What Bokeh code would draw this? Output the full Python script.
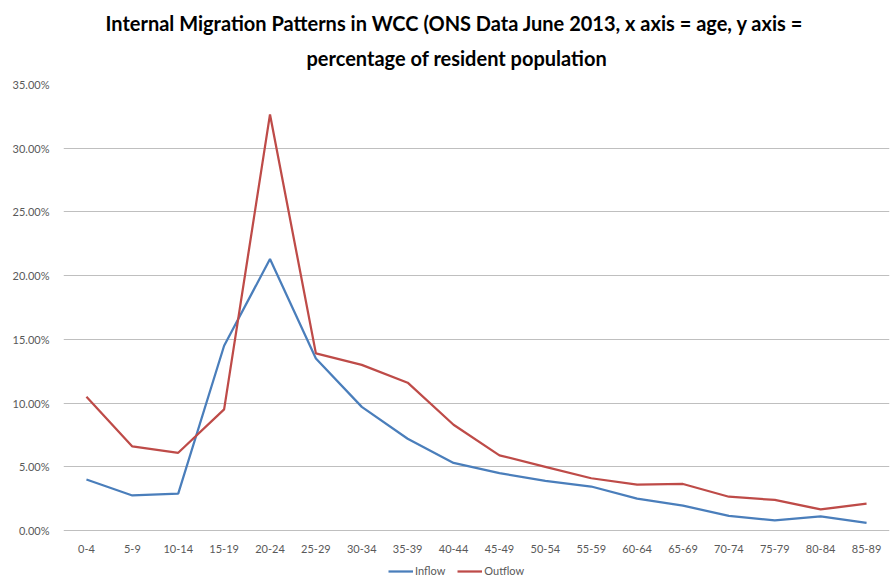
from bokeh.plotting import figure
from bokeh.models import FactorRange, Range1d, NumeralTickFormatter, FixedTicker, Legend, LegendItem, Title
from bokeh.core.properties import value
from bokeh.embed import file_html
from bokeh.resources import INLINE

ages = ["0-4", "5-9", "10-14", "15-19", "20-24", "25-29", "30-34", "35-39", "40-44",
        "45-49", "50-54", "55-59", "60-64", "65-69", "70-74", "75-79", "80-84", "85-89"]
inflow = [0.040, 0.0275, 0.029, 0.145, 0.213, 0.135, 0.097, 0.072, 0.053,
          0.045, 0.039, 0.0345, 0.025, 0.0195, 0.0115, 0.008, 0.011, 0.006]
outflow = [0.105, 0.066, 0.061, 0.095, 0.3265, 0.139, 0.130, 0.116, 0.083,
           0.059, 0.050, 0.041, 0.036, 0.0365, 0.0265, 0.024, 0.0165, 0.021]
y_ticks = [0.0, 0.05, 0.10, 0.15, 0.20, 0.25, 0.30, 0.35]
title_lines = ["Internal Migration Patterns in WCC (ONS Data June 2013, x axis = age, y axis =",
               "percentage of resident population"]

FONT = "Lato"
TOP_PX, ZERO_PX, H = 84, 530, 584
px_per_unit = (ZERO_PX - TOP_PX) / 0.35
y_bottom = -(H - ZERO_PX) / px_per_unit
label_y = -18 / px_per_unit

p = figure(width=890, height=H, x_range=FactorRange(*ages), y_range=Range1d(y_bottom, 0.35),
           x_axis_location=None,
           output_backend="svg", toolbar_location=None,
           min_border_left=63, min_border_right=1, min_border_top=TOP_PX, min_border_bottom=0)

p.title.text = title_lines[0]
sub = Title(text=title_lines[1])
p.add_layout(sub, "above")
for t in (p.title, sub):
    t.align = "left"
    t.text_font = FONT
    t.text_font_size = "20px"
    t.text_font_style = "bold"
    t.text_color = "#000000"
p.title.offset = 42
sub.offset = 243
p.title.standoff = -10
sub.standoff = 29

p.outline_line_color = None
p.xgrid.grid_line_color = None
p.ygrid.grid_line_color = "#BFBFBF"
p.ygrid.grid_line_width = 1

ax = p.yaxis
ax.axis_line_color = None
ax.major_tick_line_color = None
ax.minor_tick_line_color = None
ax.major_label_text_font = FONT
ax.major_label_text_font_size = "11px"
ax.major_label_text_color = "#595959"
ax.ticker = FixedTicker(ticks=y_ticks)
ax.formatter = NumeralTickFormatter(format="0.00%")
ax.major_label_standoff = 8

p.text(x=ages, y=[label_y] * len(ages), text=ages, text_align="center", text_baseline="middle",
       text_font=value(FONT), text_font_size="11px", text_color="#595959")

r1 = p.line(ages, inflow, line_color="#4A7EBB", line_width=2.25)
r2 = p.line(ages, outflow, line_color="#BE4B48", line_width=2.25)

legend = Legend(items=[LegendItem(label="Inflow", renderers=[r1]),
                       LegendItem(label="Outflow", renderers=[r2])],
                orientation="horizontal", location=(325, 7),
                label_text_font=FONT, label_text_font_size="11px", label_text_color="#595959",
                glyph_width=25, glyph_height=10, spacing=12, label_standoff=2,
                padding=2, margin=0, border_line_color=None, background_fill_alpha=0)
p.add_layout(legend, "center")

open("out.html", "w").write(file_html(p, INLINE))
